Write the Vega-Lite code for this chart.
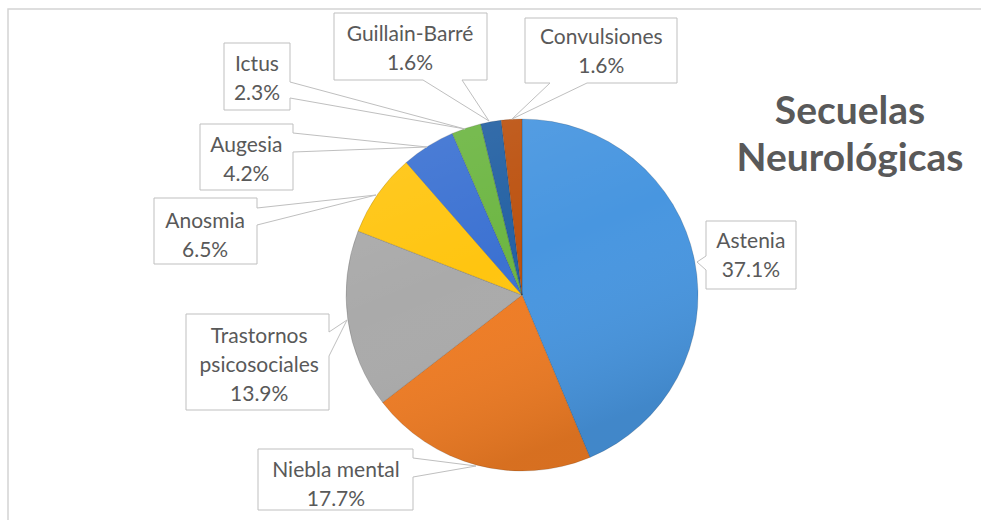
{
  "$schema": "https://vega.github.io/schema/vega-lite/v6.json",
  "width": 1028,
  "height": 572,
  "autosize": {"type": "none"},
  "padding": {"left": 8, "top": 9, "right": -55, "bottom": -61},
  "background": "white",
  "view": {"stroke": "#d4d4d4", "strokeWidth": 1.5},
  "title": {
    "text": ["Secuelas", "Neurológicas"],
    "anchor": "start",
    "align": "center",
    "baseline": "top",
    "offset": 0,
    "dx": 842,
    "dy": 170,
    "font": "Lato",
    "fontSize": 39,
    "fontWeight": "bold",
    "color": "#595959",
    "lineHeight": 47
  },
  "config": {
    "font": "Lato",
    "text": {"font": "Lato", "fontSize": 21, "color": "#595959", "align": "center", "baseline": "middle", "lineHeight": 29, "lineBreak": "\n"}
  },
  "data": {
    "values": [
      {"label": "Astenia", "value": 37.1},
      {"label": "Niebla mental", "value": 17.7},
      {"label": "Trastornos psicosociales", "value": 13.9},
      {"label": "Anosmia", "value": 6.5},
      {"label": "Augesia", "value": 4.2},
      {"label": "Ictus", "value": 2.3},
      {"label": "Guillain-Barré", "value": 1.6},
      {"label": "Convulsiones", "value": 1.6}
    ]
  },
  "transform": [
    {"window": [{"op": "row_number", "as": "rank"}]},
    {"calculate": "replace(datum.label, 'Trastornos ', 'Trastornos\\n') + '\\n' + format(datum.value, '.1f') + '%'", "as": "txt"}
  ],
  "encoding": {
    "theta": {"field": "value", "type": "quantitative", "stack": true},
    "order": {"field": "rank", "type": "quantitative"}
  },
  "layer": [
    {
      "mark": {"type": "arc", "outerRadius": 176, "stroke": "rgba(0,0,0,0.14)", "strokeWidth": 1},
      "encoding": {
        "color": {
          "field": "label",
          "type": "nominal",
          "legend": null,
          "scale": {
            "domain": ["Astenia", "Niebla mental", "Trastornos psicosociales", "Anosmia", "Augesia", "Ictus", "Guillain-Barré", "Convulsiones"],
            "range": ["#4896E0", "#EF7C24", "#AAAAAA", "#FFC510", "#3C72D2", "#6DB643", "#2461A3", "#BC5210"]
          }
        }
      }
    },
    {
      "transform": [{"filter": "datum.rank === 1"}],
      "mark": {
        "type": "arc",
        "outerRadius": 176,
        "fill": {
          "gradient": "linear",
          "x1": 0, "y1": 0, "x2": 0.4, "y2": 1,
          "stops": [
            {"offset": 0, "color": "rgba(255,255,255,0.10)"},
            {"offset": 0.5, "color": "rgba(255,255,255,0)"},
            {"offset": 1, "color": "rgba(0,0,0,0.10)"}
          ]
        }
      },
      "encoding": {"theta": null, "order": null}
    },
    {
      "mark": {"type": "point", "filled": true, "fill": "white", "stroke": "#bfbfbf", "strokeWidth": 1, "size": 4, "opacity": 1},
      "encoding": {
        "theta": null,
        "x": {"datum": 0, "type": "quantitative", "scale": {"domain": [-1, 1]}, "axis": null},
        "y": {"datum": 0, "type": "quantitative", "scale": {"domain": [-1, 1]}, "axis": null},
        "shape": {
          "field": "label",
          "type": "nominal",
          "legend": null,
          "scale": {
            "domain": ["Astenia", "Niebla mental", "Trastornos psicosociales", "Anosmia", "Augesia", "Ictus", "Guillain-Barré", "Convulsiones"],
            "range": [
              "M184,-74H274V-6H184V-25L175,-33L184,-39Z",
              "M-264,154H-109V163L-46,171L-109,182V215H-264Z",
              "M-336,19H-193V37L-175,25L-193,61V115H-336Z",
              "M-368,-97H-265V-87L-146,-100L-265,-70V-31H-368Z",
              "M-322,-171H-229V-162L-95,-148L-229,-143V-105H-322Z",
              "M-298,-252H-232V-213L-57,-166L-232,-197V-185H-298Z",
              "M-188,-282H-35V-215H-60L-33,-174L-99,-215H-188Z",
              "M3,-277H155V-212H65L-10,-176L28,-212H3Z"
            ]
          }
        }
      }
    },
    {
      "mark": {"type": "text", "radius": 215, "dx": 18, "dy": -11},
      "encoding": {"detail": {"field": "label"}, "text": {"condition": {"test": "datum.label === 'Astenia'", "field": "txt", "type": "nominal"}, "value": ""}}
    },
    {
      "mark": {"type": "text", "radius": 215, "dx": -131, "dy": -32},
      "encoding": {"detail": {"field": "label"}, "text": {"condition": {"test": "datum.label === 'Niebla mental'", "field": "txt", "type": "nominal"}, "value": ""}}
    },
    {
      "mark": {"type": "text", "radius": 215, "dx": -50, "dy": 11},
      "encoding": {"detail": {"field": "label"}, "text": {"condition": {"test": "datum.label === 'Trastornos psicosociales'", "field": "txt", "type": "nominal"}, "value": ""}}
    },
    {
      "mark": {"type": "text", "radius": 215, "dx": -141, "dy": 51},
      "encoding": {"detail": {"field": "label"}, "text": {"condition": {"test": "datum.label === 'Anosmia'", "field": "txt", "type": "nominal"}, "value": ""}}
    },
    {
      "mark": {"type": "text", "radius": 215, "dx": -161, "dy": 33},
      "encoding": {"detail": {"field": "label"}, "text": {"condition": {"test": "datum.label === 'Augesia'", "field": "txt", "type": "nominal"}, "value": ""}}
    },
    {
      "mark": {"type": "text", "radius": 215, "dx": -197, "dy": -26},
      "encoding": {"detail": {"field": "label"}, "text": {"condition": {"test": "datum.label === 'Ictus'", "field": "txt", "type": "nominal"}, "value": ""}}
    },
    {
      "mark": {"type": "text", "radius": 215, "dx": -74, "dy": -48},
      "encoding": {"detail": {"field": "label"}, "text": {"condition": {"test": "datum.label === 'Guillain-Barré'", "field": "txt", "type": "nominal"}, "value": ""}}
    },
    {
      "mark": {"type": "text", "radius": 215, "dx": 92, "dy": -42},
      "encoding": {"detail": {"field": "label"}, "text": {"condition": {"test": "datum.label === 'Convulsiones'", "field": "txt", "type": "nominal"}, "value": ""}}
    }
  ]
}
